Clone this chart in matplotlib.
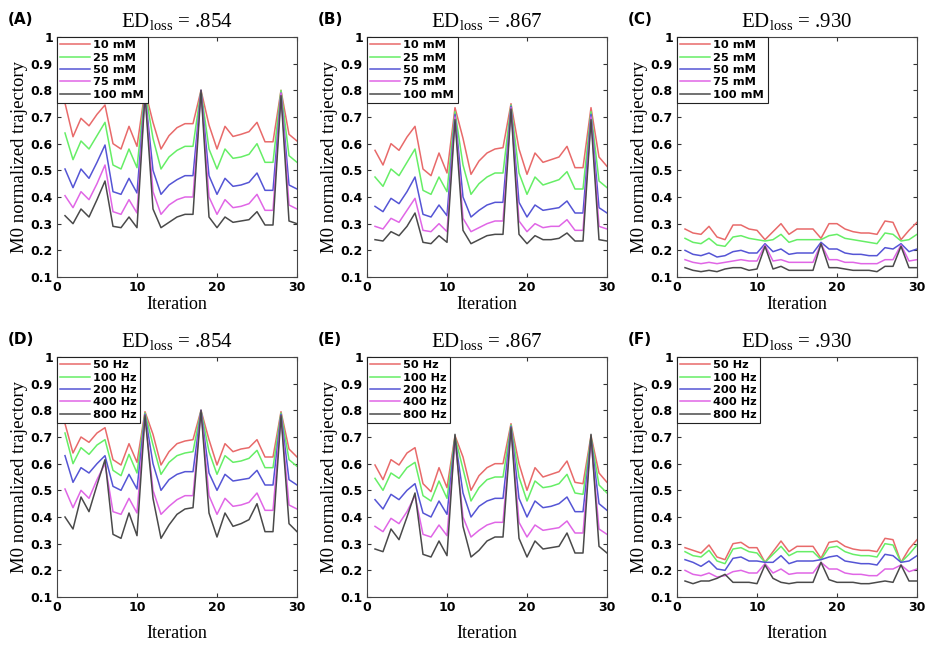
"""
plot.py -- M0 normalized trajectory per iteration, six panels (A-F)
Writes : out.png
"""

import numpy as np
import matplotlib
matplotlib.use("Agg")
import matplotlib.pyplot as plt

# -------------------------------------------------------
# Data
# -------------------------------------------------------

iteration = list(range(1, 31))

conc_labels = ["10 mM", "25 mM", "50 mM", "75 mM", "100 mM"]
freq_labels = ["50 Hz", "100 Hz", "200 Hz", "400 Hz", "800 Hz"]

# panel A  (ED_loss = .854, concentration)
a_10 = [0.752, 0.626, 0.695, 0.667, 0.71, 0.745, 0.60, 0.58, 0.665, 0.59,
        0.80, 0.68, 0.58, 0.63, 0.66, 0.675, 0.675, 0.80, 0.67, 0.58,
        0.665, 0.627, 0.635, 0.645, 0.68, 0.607, 0.607, 0.80, 0.635, 0.61]
a_25 = [0.64, 0.54, 0.61, 0.58, 0.63, 0.68, 0.52, 0.505, 0.58, 0.51,
        0.80, 0.62, 0.505, 0.55, 0.575, 0.59, 0.59, 0.80, 0.58, 0.505,
        0.58, 0.545, 0.55, 0.56, 0.60, 0.53, 0.53, 0.80, 0.555, 0.53]
a_50 = [0.505, 0.435, 0.505, 0.47, 0.53, 0.595, 0.42, 0.41, 0.47, 0.415,
        0.79, 0.50, 0.41, 0.445, 0.465, 0.48, 0.48, 0.80, 0.48, 0.41,
        0.47, 0.44, 0.445, 0.455, 0.49, 0.425, 0.425, 0.79, 0.445, 0.43]
a_75 = [0.405, 0.36, 0.42, 0.39, 0.45, 0.52, 0.345, 0.335, 0.39, 0.34,
        0.79, 0.42, 0.335, 0.37, 0.39, 0.40, 0.40, 0.80, 0.40, 0.335,
        0.39, 0.36, 0.365, 0.375, 0.41, 0.35, 0.35, 0.79, 0.37, 0.355]
a_100 = [0.33, 0.30, 0.355, 0.325, 0.39, 0.46, 0.29, 0.285, 0.325, 0.285,
         0.785, 0.355, 0.285, 0.305, 0.325, 0.335, 0.335, 0.80, 0.325, 0.285,
         0.325, 0.305, 0.31, 0.315, 0.345, 0.295, 0.295, 0.78, 0.31, 0.30]

# panel B  (ED_loss = .867, concentration)
b_10 = [0.575, 0.52, 0.60, 0.575, 0.625, 0.665, 0.505, 0.48, 0.565, 0.49,
        0.735, 0.62, 0.485, 0.535, 0.565, 0.58, 0.585, 0.75, 0.58, 0.485,
        0.565, 0.53, 0.54, 0.55, 0.59, 0.51, 0.51, 0.735, 0.55, 0.515]
b_25 = [0.475, 0.44, 0.505, 0.48, 0.53, 0.58, 0.425, 0.41, 0.475, 0.42,
        0.72, 0.52, 0.41, 0.45, 0.475, 0.49, 0.49, 0.745, 0.49, 0.41,
        0.475, 0.445, 0.455, 0.465, 0.495, 0.43, 0.43, 0.72, 0.46, 0.435]
b_50 = [0.365, 0.345, 0.395, 0.375, 0.42, 0.475, 0.335, 0.325, 0.37, 0.33,
        0.71, 0.40, 0.325, 0.35, 0.37, 0.38, 0.38, 0.74, 0.38, 0.325,
        0.37, 0.35, 0.355, 0.36, 0.385, 0.34, 0.34, 0.71, 0.36, 0.34]
b_75 = [0.29, 0.28, 0.32, 0.305, 0.35, 0.395, 0.275, 0.27, 0.30, 0.27,
        0.70, 0.32, 0.27, 0.285, 0.30, 0.31, 0.31, 0.735, 0.31, 0.27,
        0.30, 0.285, 0.29, 0.29, 0.315, 0.275, 0.275, 0.70, 0.29, 0.28]
b_100 = [0.24, 0.235, 0.27, 0.255, 0.29, 0.34, 0.23, 0.225, 0.255, 0.23,
         0.69, 0.275, 0.225, 0.24, 0.255, 0.26, 0.26, 0.73, 0.26, 0.225,
         0.255, 0.24, 0.24, 0.245, 0.265, 0.235, 0.235, 0.69, 0.24, 0.235]

# panel C  (ED_loss = .930, concentration)
c_10 = [0.28, 0.265, 0.26, 0.29, 0.25, 0.24, 0.295, 0.295, 0.28, 0.275,
        0.24, 0.27, 0.30, 0.26, 0.28, 0.28, 0.28, 0.245, 0.30, 0.30,
        0.28, 0.27, 0.265, 0.265, 0.26, 0.31, 0.305, 0.24, 0.275, 0.305]
c_25 = [0.245, 0.23, 0.225, 0.245, 0.22, 0.215, 0.25, 0.255, 0.245, 0.24,
        0.235, 0.24, 0.26, 0.23, 0.24, 0.24, 0.24, 0.24, 0.255, 0.26,
        0.245, 0.24, 0.235, 0.23, 0.225, 0.265, 0.26, 0.235, 0.24, 0.26]
c_50 = [0.20, 0.185, 0.18, 0.19, 0.175, 0.18, 0.195, 0.20, 0.19, 0.19,
        0.225, 0.195, 0.205, 0.185, 0.19, 0.19, 0.19, 0.23, 0.205, 0.205,
        0.19, 0.185, 0.185, 0.18, 0.18, 0.21, 0.205, 0.225, 0.195, 0.205]
c_75 = [0.165, 0.155, 0.15, 0.155, 0.15, 0.155, 0.16, 0.165, 0.16, 0.16,
        0.22, 0.16, 0.165, 0.155, 0.155, 0.155, 0.155, 0.225, 0.165, 0.165,
        0.155, 0.155, 0.15, 0.15, 0.15, 0.165, 0.165, 0.22, 0.16, 0.165]
c_100 = [0.135, 0.125, 0.12, 0.125, 0.12, 0.13, 0.135, 0.135, 0.125, 0.13,
         0.215, 0.13, 0.14, 0.125, 0.125, 0.125, 0.125, 0.225, 0.135, 0.135,
         0.13, 0.125, 0.125, 0.125, 0.12, 0.14, 0.14, 0.215, 0.135, 0.135]

# panel D  (ED_loss = .854, frequency)
d_50 = [0.75, 0.64, 0.70, 0.68, 0.715, 0.735, 0.615, 0.595, 0.675, 0.605,
        0.795, 0.71, 0.595, 0.645, 0.675, 0.685, 0.69, 0.80, 0.69, 0.595,
        0.675, 0.645, 0.655, 0.66, 0.69, 0.625, 0.625, 0.795, 0.655, 0.625]
d_100 = [0.715, 0.60, 0.66, 0.635, 0.67, 0.69, 0.575, 0.555, 0.635, 0.565,
         0.79, 0.67, 0.56, 0.605, 0.63, 0.64, 0.645, 0.80, 0.645, 0.56,
         0.63, 0.605, 0.61, 0.62, 0.65, 0.585, 0.585, 0.79, 0.615, 0.59]
d_200 = [0.63, 0.53, 0.585, 0.565, 0.60, 0.63, 0.515, 0.50, 0.56, 0.505,
         0.785, 0.60, 0.50, 0.54, 0.56, 0.57, 0.57, 0.80, 0.565, 0.50,
         0.56, 0.535, 0.54, 0.545, 0.575, 0.52, 0.52, 0.785, 0.54, 0.52]
d_400 = [0.505, 0.435, 0.50, 0.47, 0.54, 0.60, 0.42, 0.41, 0.47, 0.415,
         0.78, 0.50, 0.41, 0.44, 0.465, 0.48, 0.48, 0.80, 0.48, 0.41,
         0.47, 0.44, 0.445, 0.455, 0.49, 0.425, 0.425, 0.78, 0.445, 0.43]
d_800 = [0.40, 0.355, 0.475, 0.42, 0.52, 0.615, 0.335, 0.32, 0.415, 0.33,
         0.78, 0.47, 0.32, 0.37, 0.41, 0.43, 0.435, 0.80, 0.415, 0.325,
         0.415, 0.365, 0.375, 0.39, 0.45, 0.345, 0.345, 0.78, 0.375, 0.345]

# panel E  (ED_loss = .867, frequency)
e_50 = [0.595, 0.54, 0.615, 0.595, 0.64, 0.66, 0.525, 0.495, 0.585, 0.51,
        0.705, 0.625, 0.50, 0.555, 0.585, 0.60, 0.60, 0.75, 0.60, 0.50,
        0.585, 0.55, 0.56, 0.57, 0.61, 0.53, 0.525, 0.705, 0.565, 0.53]
e_100 = [0.545, 0.50, 0.565, 0.545, 0.585, 0.605, 0.48, 0.46, 0.535, 0.47,
         0.70, 0.58, 0.46, 0.51, 0.54, 0.55, 0.55, 0.745, 0.55, 0.46,
         0.535, 0.51, 0.515, 0.525, 0.56, 0.49, 0.485, 0.70, 0.52, 0.49]
e_200 = [0.465, 0.43, 0.485, 0.465, 0.50, 0.525, 0.415, 0.40, 0.46, 0.41,
         0.695, 0.49, 0.40, 0.44, 0.46, 0.47, 0.47, 0.74, 0.47, 0.40,
         0.46, 0.435, 0.44, 0.45, 0.475, 0.42, 0.42, 0.695, 0.45, 0.425]
e_400 = [0.365, 0.345, 0.395, 0.375, 0.42, 0.48, 0.335, 0.325, 0.37, 0.33,
         0.69, 0.40, 0.325, 0.35, 0.37, 0.38, 0.38, 0.735, 0.38, 0.325,
         0.37, 0.35, 0.355, 0.36, 0.385, 0.34, 0.34, 0.69, 0.355, 0.335]
e_800 = [0.28, 0.27, 0.355, 0.315, 0.40, 0.49, 0.26, 0.25, 0.31, 0.255,
         0.71, 0.365, 0.25, 0.275, 0.31, 0.325, 0.325, 0.735, 0.32, 0.25,
         0.31, 0.28, 0.285, 0.29, 0.34, 0.265, 0.265, 0.71, 0.29, 0.265]

# panel F  (ED_loss = .930, frequency)
f_50 = [0.285, 0.275, 0.265, 0.295, 0.25, 0.24, 0.30, 0.305, 0.285, 0.285,
        0.23, 0.27, 0.31, 0.27, 0.29, 0.29, 0.29, 0.245, 0.305, 0.31,
        0.29, 0.28, 0.275, 0.275, 0.27, 0.32, 0.315, 0.23, 0.28, 0.315]
f_100 = [0.27, 0.255, 0.25, 0.275, 0.235, 0.225, 0.28, 0.285, 0.27, 0.265,
         0.23, 0.26, 0.29, 0.255, 0.27, 0.27, 0.27, 0.24, 0.285, 0.29,
         0.27, 0.26, 0.255, 0.255, 0.25, 0.30, 0.295, 0.23, 0.26, 0.295]
f_200 = [0.24, 0.23, 0.215, 0.235, 0.205, 0.20, 0.245, 0.25, 0.235, 0.235,
         0.23, 0.23, 0.255, 0.225, 0.235, 0.235, 0.235, 0.24, 0.25, 0.255,
         0.235, 0.23, 0.225, 0.225, 0.22, 0.26, 0.255, 0.23, 0.235, 0.255]
f_400 = [0.20, 0.185, 0.18, 0.19, 0.175, 0.18, 0.195, 0.20, 0.19, 0.19,
         0.225, 0.19, 0.205, 0.185, 0.19, 0.19, 0.19, 0.23, 0.205, 0.205,
         0.19, 0.185, 0.185, 0.18, 0.18, 0.205, 0.205, 0.22, 0.195, 0.205]
f_800 = [0.16, 0.15, 0.16, 0.16, 0.17, 0.185, 0.155, 0.155, 0.155, 0.15,
         0.22, 0.17, 0.155, 0.15, 0.155, 0.155, 0.155, 0.23, 0.165, 0.155,
         0.155, 0.155, 0.15, 0.15, 0.155, 0.16, 0.155, 0.22, 0.16, 0.16]

panel_letters = ["(A)", "(B)", "(C)", "(D)", "(E)", "(F)"]
ed_loss = [".854", ".867", ".930", ".854", ".867", ".930"]

# -------------------------------------------------------
# Style
# -------------------------------------------------------

LINE_COLORS = ["#e86a6a", "#66ee66", "#5555d5", "#e066e6", "#4a4a4a"]
SERIF = "Liberation Serif"
SANS = "DejaVu Sans"

plt.rcParams["mathtext.fontset"] = "custom"
plt.rcParams["mathtext.rm"] = SERIF

# axes rectangles in pixels of the 929x646 figure
FIG_W, FIG_H = 929, 646
LEFTS = [57, 367, 677]
TOPS = [37, 357]
AX_W, AX_H = 240, 240
XLABEL_PAD = [1, 8]


def draw_panel(ax, series, labels, letter, ed, row):
    for y, lab, col in zip(series, labels, LINE_COLORS):
        ax.plot(iteration, y, color=col, lw=1.1, label=lab)

    ax.set_xlim(0, 30)
    ax.set_ylim(0.1, 1.0)
    ax.set_xticks([0, 10, 20, 30])
    ax.set_yticks(np.arange(0.1, 1.01, 0.1))
    ax.set_yticklabels(["0.1", "0.2", "0.3", "0.4", "0.5",
                        "0.6", "0.7", "0.8", "0.9", "1"])
    ax.tick_params(direction="in", top=True, right=True, length=3,
                   width=0.8, color="#333333", labelsize=9, pad=3)
    for lab in ax.get_xticklabels() + ax.get_yticklabels():
        lab.set_fontweight("bold")
        lab.set_family(SANS)
    for sp in ax.spines.values():
        sp.set_color("#444444")
        sp.set_linewidth(0.8)

    ax.set_xlabel("Iteration", family=SERIF, fontsize=13,
                  labelpad=XLABEL_PAD[row])
    ax.set_ylabel("M0 normalized trajectory", family=SERIF, fontsize=13.5,
                  labelpad=2)
    ax.set_title(r"$\mathrm{ED}_{\mathrm{loss}}$" + f" = {ed}",
                 family=SERIF, fontsize=15, pad=7)
    ax.text(-0.205, 1.072, letter, transform=ax.transAxes, fontsize=11,
            fontweight="bold", family=SANS, ha="left", va="center")

    leg = ax.legend(loc="upper left", borderaxespad=0, frameon=True,
                    fancybox=False, edgecolor="#222222", framealpha=1,
                    prop={"family": SANS, "weight": "bold", "size": 8.2},
                    labelspacing=0.2, handlelength=2.6, handletextpad=0.3,
                    borderpad=0.3)
    leg.get_frame().set_linewidth(0.8)


fig = plt.figure(figsize=(FIG_W / 100, FIG_H / 100), dpi=100)

panels = [
    ([a_10, a_25, a_50, a_75, a_100], conc_labels),
    ([b_10, b_25, b_50, b_75, b_100], conc_labels),
    ([c_10, c_25, c_50, c_75, c_100], conc_labels),
    ([d_50, d_100, d_200, d_400, d_800], freq_labels),
    ([e_50, e_100, e_200, e_400, e_800], freq_labels),
    ([f_50, f_100, f_200, f_400, f_800], freq_labels),
]

for i, (series, labels) in enumerate(panels):
    row, col = divmod(i, 3)
    rect = [LEFTS[col] / FIG_W, 1 - (TOPS[row] + AX_H) / FIG_H,
            AX_W / FIG_W, AX_H / FIG_H]
    ax = fig.add_axes(rect)
    draw_panel(ax, series, labels, panel_letters[i], ed_loss[i], row)

fig.savefig("out.png", dpi=100)
plt.close(fig)
